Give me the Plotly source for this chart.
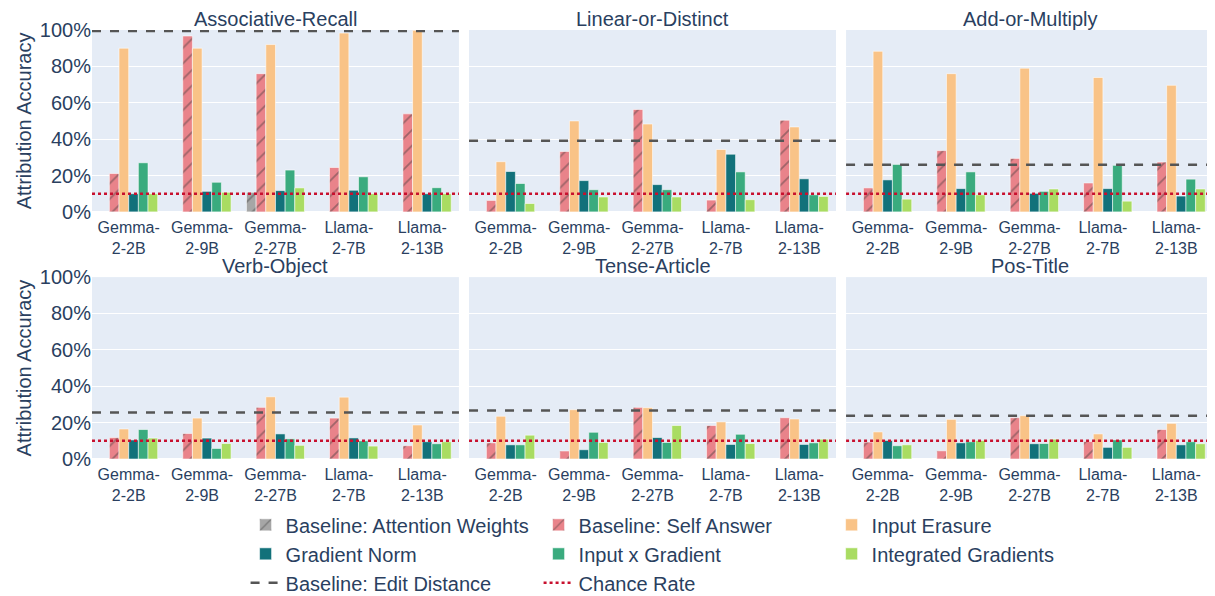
import plotly.graph_objects as go
from plotly.subplots import make_subplots

tasks = ["Associative-Recall", "Linear-or-Distinct", "Add-or-Multiply",
         "Verb-Object", "Tense-Article", "Pos-Title"]
models = ["Gemma-2-2B", "Gemma-2-9B", "Gemma-2-27B", "Llama-2-7B", "Llama-2-13B"]
model_ticks = ["Gemma-<br>2-2B", "Gemma-<br>2-9B", "Gemma-<br>2-27B", "Llama-<br>2-7B", "Llama-<br>2-13B"]

# values in percent, one row per task (same order as `tasks`)
attention_weights = [
    [None, None, 10.8, None, None],
    [None, None, None, None, None],
    [None, None, None, None, None],
    [None, None, None, None, None],
    [None, None, None, None, None],
    [None, None, None, None, None],
]
self_answer = [
    [21.1, 96.7, 76.0, 24.4, 53.9],
    [6.3, 33.2, 56.3, 6.5, 50.4],
    [13.2, 33.7, 29.4, 15.9, 27.4],
    [11.8, 14.0, 28.4, 22.5, 7.3],
    [8.9, 4.4, 28.4, 18.4, 22.7],
    [9.3, 4.5, 22.7, 9.6, 16.2],
]
input_erasure = [
    [90.0, 90.0, 92.0, 98.3, 99.8],
    [27.6, 50.0, 48.3, 34.3, 46.7],
    [88.3, 76.0, 79.0, 73.9, 69.6],
    [16.5, 22.5, 34.2, 34.0, 18.7],
    [23.5, 27.1, 28.2, 20.4, 22.0],
    [14.9, 21.8, 23.8, 13.8, 19.6],
]
gradient_norm = [
    [10.0, 11.3, 11.7, 11.9, 10.0],
    [22.2, 17.2, 15.0, 31.7, 18.2],
    [17.6, 12.8, 10.2, 12.8, 8.7],
    [10.5, 11.5, 13.8, 11.6, 9.5],
    [7.8, 5.1, 11.8, 8.0, 8.0],
    [10.2, 8.9, 8.4, 6.4, 7.8],
]
input_x_gradient = [
    [27.0, 16.3, 23.0, 19.3, 13.3],
    [15.6, 12.2, 12.2, 22.0, 9.4],
    [26.1, 22.0, 11.3, 25.6, 18.0],
    [16.2, 5.8, 11.1, 10.0, 8.4],
    [7.8, 14.7, 9.1, 13.6, 8.9],
    [7.3, 9.5, 8.5, 10.5, 9.5],
]
integrated_gradients = [
    [10.0, 10.8, 13.2, 10.0, 10.0],
    [4.6, 8.2, 8.2, 6.7, 8.5],
    [7.0, 9.4, 12.6, 5.9, 12.6],
    [11.5, 8.5, 7.5, 7.1, 9.5],
    [13.1, 9.1, 18.4, 8.5, 10.9],
    [7.8, 10.2, 10.9, 6.4, 8.4],
]
edit_distance = [99.5, 39.1, 25.9, 25.6, 26.7, 23.8]
chance_rate = [10.0, 10.0, 10.0, 10.0, 10.0, 10.0]

methods = [
    ("Baseline: Attention Weights", attention_weights, "#a6a6a6", True),
    ("Baseline: Self Answer", self_answer, "#e9838a", True),
    ("Input Erasure", input_erasure, "#f9c387", False),
    ("Gradient Norm", gradient_norm, "#12717a", False),
    ("Input x Gradient", input_x_gradient, "#3aab7e", False),
    ("Integrated Gradients", integrated_gradients, "#a9dc62", False),
]

fig = make_subplots(rows=2, cols=3, shared_yaxes=True,
                    horizontal_spacing=0.009, vertical_spacing=0.152,
                    subplot_titles=tasks)

def pct(v):
    return [None if x is None else x / 100 for x in v]

for ti, task in enumerate(tasks):
    r, c = ti // 3 + 1, ti % 3 + 1
    for name, data, color, hatched in methods:
        marker = dict(color=color, line=dict(color="rgba(255,255,255,0.55)", width=1))
        if hatched:
            marker["pattern"] = dict(shape="/", fgcolor="rgba(55,55,55,0.85)",
                                     size=11, solidity=0.16)
        fig.add_trace(go.Bar(x=models, y=pct(data[ti]), name=name, marker=marker,
                             legendgroup=name, showlegend=(ti == 0)),
                      row=r, col=c)
    fig.add_hline(y=edit_distance[ti] / 100, line=dict(color="#555555", width=2.5, dash="dash"),
                  row=r, col=c)
    fig.add_hline(y=chance_rate[ti] / 100, line=dict(color="#c8102e", width=2.5, dash="dot"),
                  row=r, col=c)

fig.add_trace(go.Scatter(x=[None], y=[None], mode="lines", name="Baseline: Edit Distance",
                         line=dict(color="#555555", width=2.5, dash="dash")), row=1, col=1)
fig.add_trace(go.Scatter(x=[None], y=[None], mode="lines", name="Chance Rate",
                         line=dict(color="#c8102e", width=2.5, dash="dot")), row=1, col=1)

fig.update_xaxes(tickvals=models, ticktext=model_ticks, tickfont=dict(size=16),
                 automargin=False, ticklabelstandoff=4)
fig.update_yaxes(range=[0, 1.0], dtick=0.2, tickformat=".0%", tickfont=dict(size=20),
                 automargin=False)
fig.update_yaxes(title_text="Attribution Accuracy", title_font=dict(size=20),
                 title_standoff=2, col=1)

for ann in fig.layout.annotations:
    ann.font = dict(size=20)
    ann.yshift = -2

# the page body adds an 8px offset, so the figure is sized 8px smaller
fig.update_layout(
    template="plotly",
    width=1207, height=588,
    barmode="group", bargap=0.21, bargroupgap=0,
    margin=dict(l=84, r=2, t=22, b=137, autoexpand=False),
    font=dict(family="Liberation Sans, Arial, sans-serif", color="#2a3f5f"),
    legend=dict(orientation="h", x=0.137, xanchor="left", y=-0.108, yanchor="top",
                font=dict(size=20), entrywidth=248, traceorder="normal"),
)

fig.write_html("out.html")
